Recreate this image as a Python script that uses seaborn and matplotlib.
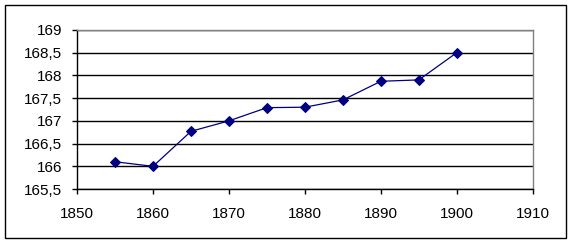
import pandas as pd
import seaborn as sns
import matplotlib.pyplot as plt
from matplotlib.ticker import FuncFormatter

# Data
years = [1855, 1860, 1865, 1870, 1875, 1880, 1885, 1890, 1895, 1900]
heights = [166.1, 166.0, 166.77, 167.0, 167.29, 167.3, 167.46, 167.87, 167.9, 168.5]

df = pd.DataFrame({'year': years, 'height': heights})

sns.set_style('white')
plt.rcParams['font.family'] = ['Liberation Sans', 'DejaVu Sans']

fig = plt.figure(figsize=(5.71, 2.43), dpi=100)
ax = fig.add_axes([0.135, 0.222, 0.798, 0.655])

sns.lineplot(data=df, x='year', y='height', ax=ax, color='#000080',
             marker='D', markersize=5.5, markeredgecolor='#000080', linewidth=0.9)

ax.set_xlim(1850, 1910)
ax.set_ylim(165.5, 169)
ax.set_xticks(range(1850, 1911, 10))
ax.set_yticks([165.5 + 0.5 * i for i in range(8)])
ax.yaxis.set_major_formatter(FuncFormatter(lambda v, p: f'{v:g}'.replace('.', ',')))
ax.grid(axis='y', color='black', linewidth=1)
ax.set_axisbelow(True)
ax.set_xlabel('')
ax.set_ylabel('')
ax.tick_params(axis='both', direction='out', length=3.6, width=1, color='black',
               labelsize=11, labelcolor='black', left=True, bottom=True)
ax.tick_params(axis='y', pad=7)
ax.tick_params(axis='x', pad=9)

for s in ['left', 'bottom']:
    ax.spines[s].set_color('black')
    ax.spines[s].set_linewidth(1)
for s in ['top', 'right']:
    ax.spines[s].set_color('#808080')
    ax.spines[s].set_linewidth(1)

# outer frame
fig.patches.append(plt.Rectangle((0.009, 0.02), 0.983, 0.96, transform=fig.transFigure,
                                 fill=False, edgecolor='black', linewidth=1))

fig.savefig('out.png', dpi=100)
